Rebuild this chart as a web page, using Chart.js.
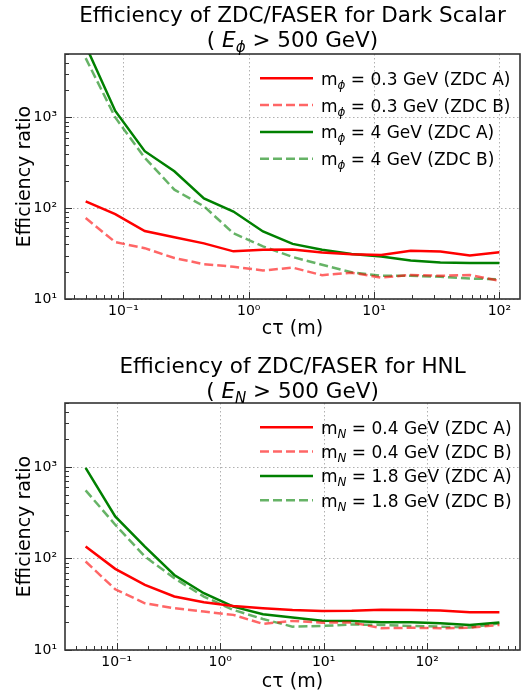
<!DOCTYPE html>
<html>
<head>
<meta charset="utf-8">
<script src="https://cdn.jsdelivr.net/npm/chart.js@4"></script>
<style>
  body { margin: 0; background: #fff; }
  canvas { position: absolute; left: 0; }
  #scalarChart { top: 0; }
  #hnlChart { top: 345px; }
</style>
</head>
<body>
<canvas id="scalarChart" width="527" height="345"></canvas>
<canvas id="hnlChart" width="527" height="346"></canvas>
<script>
//////// Data (c tau in metres, efficiency ratio)
const detectors = ["ZDC A", "ZDC B"];

// Dark scalar
const scalarMasses = ["0.3", "4"];
const scalarCtau = [0.05, 0.0861, 0.148, 0.255, 0.439, 0.755, 1.30, 2.24, 3.85, 6.62, 11.4, 19.6, 33.8, 58.1, 100];
const scalarLightA = [119, 86, 56, 48, 41, 33.5, 34.8, 35, 32.5, 31.2, 30.6, 34, 33.3, 30.2, 32.8];
const scalarLightB = [78, 42.3, 36.3, 28.3, 24.2, 22.7, 20.6, 22.2, 18.3, 19.5, 17.2, 18.4, 18, 18.4, 15.9];
const scalarHeavyA = [6200, 1180, 425, 255, 128, 92, 55.5, 40.5, 34.8, 31.4, 29.4, 26.5, 25.2, 25, 25];
const scalarHeavyB = [4500, 1000, 360, 160, 105, 53, 38, 29, 23.8, 19.7, 18, 18, 17.6, 16.8, 16.5];

// HNL
const hnlMasses = ["0.4", "1.8"];
const hnlCtau = [0.05, 0.0966, 0.187, 0.360, 0.695, 1.34, 2.59, 5.0, 9.66, 18.7, 36.0, 69.5, 134, 259, 500];
const hnlLightA = [135, 77, 51.5, 38.4, 33.3, 30.3, 28.6, 27.4, 26.7, 26.9, 27.6, 27.4, 27, 25.8, 25.8];
const hnlLightB = [92.7, 46.1, 32.4, 28.6, 26.3, 24.2, 19.3, 20.8, 19.9, 20, 17.3, 17.5, 17.3, 17.5, 18.8];
const hnlHeavyA = [975, 288, 135, 66, 41.7, 29.8, 24.6, 22.6, 20.9, 20.7, 20.1, 20.1, 19.6, 18.8, 20];
const hnlHeavyB = [555, 234, 105, 61, 38.4, 27.4, 21.8, 18, 18.3, 19, 18.8, 18.3, 18, 17.6, 19.6];

const FONT = '"DejaVu Sans", sans-serif';
const SUP = { "-": "\u207b", "0": "\u2070", "1": "\u00b9", "2": "\u00b2", "3": "\u00b3" };

//draw text made of [text, style] parts, style: "" normal, "i" italic, "s" subscript, "is" italic subscript
function drawRich(ctx, parts, x, y, size, align) {
    const fontFor = p => (p[1].includes("i") ? "italic " : "") + (p[1].includes("s") ? size * 0.7 : size) + "px " + FONT;
    let total = 0;
    for (const p of parts) { ctx.font = fontFor(p); total += ctx.measureText(p[0]).width; }
    let cx = align === "center" ? x - total / 2 : x;
    ctx.textAlign = "left";
    ctx.textBaseline = "alphabetic";
    for (const p of parts) {
        ctx.font = fontFor(p);
        ctx.fillText(p[0], cx, y + (p[1].includes("s") ? size * 0.24 : 0));
        cx += ctx.measureText(p[0]).width;
    }
}

//powers of ten and their 2..9 multiples inside an axis range
function logTicks(min, max, minorToo) {
    const out = [];
    for (let e = Math.floor(Math.log10(min)); e <= Math.ceil(Math.log10(max)); e++) {
        for (let m = 1; m <= (minorToo ? 9 : 1); m++) {
            const v = m * Math.pow(10, e);
            if (v >= min * 0.9999 && v <= max * 1.0001) out.push({ value: v, major: m === 1 });
        }
    }
    return out;
}

//frame, dotted grid, inward ticks, titles, axis labels and legend
const decorPlugin = {
    id: "decor",
    beforeDatasetsDraw(chart) {
        const { ctx, chartArea: a, scales: { x, y } } = chart;
        ctx.save();
        ctx.strokeStyle = "#b0b0b0";
        ctx.lineWidth = 1;
        ctx.setLineDash([1.5, 2.5]);
        for (const t of logTicks(x.min, x.max, false)) {
            const px = Math.round(x.getPixelForValue(t.value)) + 0.5;
            ctx.beginPath(); ctx.moveTo(px, a.top); ctx.lineTo(px, a.bottom); ctx.stroke();
        }
        for (const t of logTicks(y.min, y.max, false)) {
            const py = Math.round(y.getPixelForValue(t.value)) + 0.5;
            ctx.beginPath(); ctx.moveTo(a.left, py); ctx.lineTo(a.right, py); ctx.stroke();
        }
        ctx.restore();
    },
    afterDraw(chart, args, opts) {
        const { ctx, chartArea: a, scales: { x, y } } = chart;
        ctx.save();
        ctx.strokeStyle = "#333";
        ctx.lineWidth = 1;
        for (const t of logTicks(x.min, x.max, true)) {
            const px = Math.round(x.getPixelForValue(t.value)) + 0.5;
            ctx.beginPath(); ctx.moveTo(px, a.bottom); ctx.lineTo(px, a.bottom - (t.major ? 7 : 4)); ctx.stroke();
        }
        for (const t of logTicks(y.min, y.max, true)) {
            const py = Math.round(y.getPixelForValue(t.value)) + 0.5;
            ctx.beginPath(); ctx.moveTo(a.left, py); ctx.lineTo(a.left + (t.major ? 7 : 4), py); ctx.stroke();
        }
        ctx.lineWidth = 1.6;
        ctx.strokeRect(a.left, a.top, a.right - a.left, a.bottom - a.top);

        ctx.fillStyle = "#000";
        const cx = (a.left + a.right) / 2;
        drawRich(ctx, opts.title[0], cx, opts.titleY[0], 21.5, "center");
        drawRich(ctx, opts.title[1], cx, opts.titleY[1], 21.5, "center");
        drawRich(ctx, [["c\u03c4 (m)", ""]], cx, opts.xLabelY, 19, "center");
        ctx.save();
        ctx.translate(30, (a.top + a.bottom) / 2);
        ctx.rotate(-Math.PI / 2);
        drawRich(ctx, [["Efficiency ratio", ""]], 0, 0, 19, "center");
        ctx.restore();

        //legend
        chart.data.datasets.forEach((ds, i) => {
            const rowY = opts.legendY + i * opts.legendStep;
            ctx.save();
            ctx.strokeStyle = ds.borderColor;
            ctx.lineWidth = ds.borderWidth;
            ctx.setLineDash(ds.borderDash || []);
            ctx.beginPath(); ctx.moveTo(260, rowY); ctx.lineTo(313, rowY); ctx.stroke();
            ctx.restore();
            drawRich(ctx, ds.legendParts, 321, rowY + 6.5, 17, "left");
        });
        ctx.restore();
    }
};

function makeDatasets(ctau, series, masses, symbol) {
    const colors = ["rgb(255, 0, 0)", "rgba(255, 0, 0, 0.6)", "rgb(0, 128, 0)", "rgba(0, 128, 0, 0.6)"];
    return series.map((vals, i) => ({
        label: "m" + symbol + " = " + masses[Math.floor(i / 2)] + " GeV (" + detectors[i % 2] + ")",
        legendParts: [["m", ""], [symbol, "is"], [" = " + masses[Math.floor(i / 2)] + " GeV (" + detectors[i % 2] + ")", ""]],
        data: ctau.map((c, j) => ({ x: c, y: vals[j] })),
        borderColor: colors[i],
        borderWidth: 2.5,
        borderDash: i % 2 ? [9, 4] : [],
        pointRadius: 0,
        fill: false,
        tension: 0
    }));
}

function makeChart(id, datasets, xMin, xMax, xAxisHeight, decor) {
    const sup = v => "10" + String(Math.round(Math.log10(v))).split("").map(c => SUP[c]).join("");
    return new Chart(document.getElementById(id), {
        type: "line",
        data: { datasets: datasets },
        options: {
            responsive: false,
            animation: false,
            layout: { padding: { top: decor.top, right: 7, left: 0, bottom: 0 } },
            plugins: { legend: { display: false }, tooltip: { enabled: false }, decor: decor },
            scales: {
                x: {
                    type: "logarithmic", min: xMin, max: xMax,
                    grid: { display: false, drawTicks: false }, border: { display: false },
                    afterBuildTicks: s => { s.ticks = logTicks(s.min, s.max, false); },
                    afterFit: s => { s.height = xAxisHeight; },
                    ticks: { autoSkip: false, maxRotation: 0, padding: 4, color: "#000", font: { family: FONT, size: 14 }, callback: sup }
                },
                y: {
                    type: "logarithmic", min: 10, max: 5000,
                    grid: { display: false, drawTicks: false }, border: { display: false },
                    afterBuildTicks: s => { s.ticks = logTicks(s.min, s.max, false); },
                    afterFit: s => { s.width = 65; },
                    ticks: { autoSkip: false, padding: 8, color: "#000", font: { family: FONT, size: 14 }, callback: sup }
                }
            }
        },
        plugins: [decorPlugin]
    });
}

makeChart("scalarChart",
    makeDatasets(scalarCtau, [scalarLightA, scalarLightB, scalarHeavyA, scalarHeavyB], scalarMasses, "\u03d5"),
    0.0342, 146, 46,
    {
        top: 54,
        title: [[["Efficiency of ZDC/FASER for Dark Scalar", ""]], [["( ", ""], ["E", "i"], ["\u03d5", "is"], [" > 500 GeV)", ""]]],
        titleY: [22, 46.5], xLabelY: 334, legendY: 78.3, legendStep: 26.8
    });

makeChart("hnlChart",
    makeDatasets(hnlCtau, [hnlLightA, hnlLightB, hnlHeavyA, hnlHeavyB], hnlMasses, "N"),
    0.0316, 791, 41,
    {
        top: 58,
        title: [[["Efficiency of ZDC/FASER for HNL", ""]], [["( ", ""], ["E", "i"], ["N", "is"], [" > 500 GeV)", ""]]],
        titleY: [27.7, 53], xLabelY: 341.5, legendY: 82.3, legendStep: 24.3
    });
</script>
</body>
</html>
